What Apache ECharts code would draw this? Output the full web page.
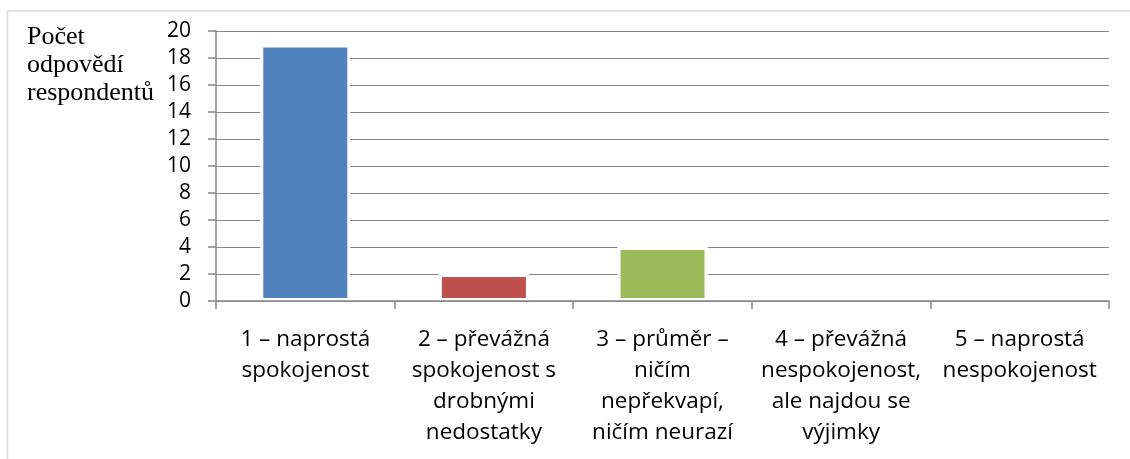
<!DOCTYPE html>
<html>
<head>
<meta charset="utf-8">
<script src="https://cdn.jsdelivr.net/npm/echarts@6/dist/echarts.min.js"></script>
<style>
  html, body { margin: 0; padding: 0; background: #fff; }
  #chart { width: 1130px; height: 459px; }
</style>
</head>
<body>
<div id="chart"></div>
<script>
// Spokojenost respondentů – počet odpovědí na pětibodové škále
const categories = [
  '1 – naprostá\nspokojenost',
  '2 – převážná\nspokojenost s\ndrobnými\nnedostatky',
  '3 – průměr –\nničím\nnepřekvapí,\nničím neurazí',
  '4 – převážná\nnespokojenost,\nale najdou se\nvýjimky',
  '5 – naprostá\nnespokojenost'
];
const counts = [19, 2, 4, 0, 0];
const yAxisTitle = 'Počet\nodpovědí\nrespondentů';
const yMin = 0, yMax = 20, yStep = 2;

const palette = ['#4F81BD', '#C0504D', '#9BBB59', '#8064A2', '#4BACC6'];
const axisGrey = '#868686';
const labelFont = '"Open Sans", sans-serif';

// white outline around each non-empty bar
const barData = counts.map(v => ({
  value: v,
  itemStyle: { borderColor: '#fff', borderWidth: v > 0 ? 3 : 0 }
}));

const chart = echarts.init(document.getElementById('chart'), null, { renderer: 'canvas' });

chart.setOption({
  animation: false,
  backgroundColor: '#fff',
  color: palette,
  title: {
    text: yAxisTitle,
    left: 27,
    top: 23,
    padding: 0,
    textStyle: {
      fontFamily: '"Liberation Serif", "Times New Roman", serif',
      fontSize: 26,
      lineHeight: 28,
      fontWeight: 'normal',
      color: '#000'
    }
  },
  graphic: [{
    type: 'rect',
    z: -10,
    silent: true,
    shape: { x: 7.5, y: 11, width: 1140, height: 470 },
    style: { fill: 'none', stroke: '#d9d9d9', lineWidth: 1.5 }
  }],
  grid: { left: 216, right: 21, top: 31, bottom: 158, containLabel: false },
  xAxis: {
    type: 'category',
    data: categories,
    z: 3,
    boundaryGap: true,
    axisLine: { show: true, lineStyle: { color: axisGrey, width: 1.5 } },
    axisTick: { show: true, length: 8, lineStyle: { color: axisGrey, width: 1.5 } },
    axisLabel: {
      interval: 0,
      margin: 23,
      color: '#000',
      fontFamily: labelFont,
      fontSize: 22.5,
      lineHeight: 31,
      align: 'center'
    },
    splitLine: { show: false }
  },
  yAxis: {
    type: 'value',
    min: yMin,
    max: yMax,
    interval: yStep,
    axisLine: { show: true, lineStyle: { color: axisGrey, width: 1.5 } },
    axisTick: { show: true, length: 8, lineStyle: { color: axisGrey, width: 1.5 } },
    axisLabel: {
      margin: 25,
      color: '#000',
      fontFamily: labelFont,
      fontSize: 21
    },
    splitLine: { show: true, lineStyle: { color: axisGrey, width: 1.2 } }
  },
  series: [{
    type: 'bar',
    data: barData,
    colorBy: 'data',
    barWidth: 90,
    label: { show: false }
  }]
});
</script>
</body>
</html>
